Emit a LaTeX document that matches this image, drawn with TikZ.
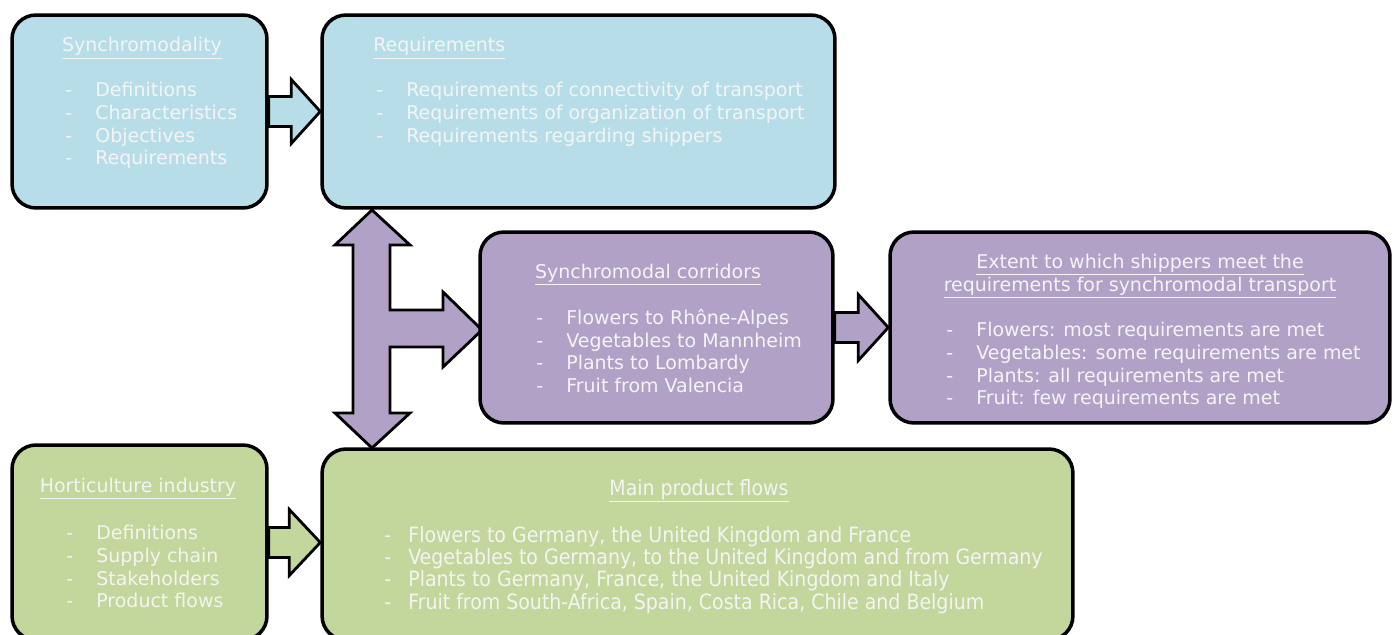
\documentclass[tikz,border=0pt]{standalone}
\usepackage{fontspec}
\setmainfont{DejaVu Sans}
\newfontfamily\condfont{DejaVu Sans Condensed}
\usetikzlibrary{calc}
\definecolor{synblue}{RGB}{183,222,232}
\definecolor{corpurple}{RGB}{178,161,199}
\definecolor{hortgreen}{RGB}{195,214,155}
\definecolor{paletext}{RGB}{244,244,244}

% list entry with a leading dash
\newcommand\itm[1]{\makebox[0.6cm][l]{-}#1}
\newcommand\itmc[1]{\makebox[0.48cm][l]{-}#1}
% horizontal block arrow: from, to, half shaft, half head, head length
\newcommand\blockarrow[6]{%
  \draw[arrowbody, fill=#6] let \p1=(#1), \p2=(#2) in
    (\x1,\y1+#3) -- (\x2-#5,\y1+#3) -- (\x2-#5,\y1+#4) -- (\x2,\y1)
    -- (\x2-#5,\y1-#4) -- (\x2-#5,\y1-#3) -- (\x1,\y1-#3) -- cycle;}

\begin{document}
\begin{tikzpicture}[x=0.02cm, y=-0.02cm]
  \tikzset{box/.style={rectangle, rounded corners=0.48cm, draw=black, line width=2pt, inner sep=0pt},
    arrowbody/.style={draw=black, line width=1.6pt, line join=miter},
    title/.style={inner sep=0pt, text=paletext, font=\fontsize{10.8}{12.9}\selectfont},
    list/.style={inner sep=0pt, align=left, text=paletext, font=\fontsize{10.8}{12.9}\selectfont},
    condtext/.style={font=\condfont\fontsize{12}{12.7}\selectfont}}
  \useasboundingbox (0,0) rectangle (1397,635);

  % triple arrow behind the boxes
  \draw[arrowbody, fill=corpurple] (372,210) -- (410,245) -- (390,245) -- (390,310) -- (443,310) -- (443,292)
    -- (482,330) -- (443,367) -- (443,347) -- (390,347) -- (390,413) -- (410,413) -- (372,448)
    -- (335,413) -- (353,413) -- (353,245) -- (335,245) -- cycle;

  \node[box, fill=synblue, minimum width=5.1cm, minimum height=3.86cm] (syn) at (139.5,111.5) {};
  \node[box, fill=synblue, minimum width=10.26cm, minimum height=3.86cm] (req) at (578.5,111.5) {};
  \node[box, fill=corpurple, minimum width=7.06cm, minimum height=3.82cm] (cor) at (656.5,327.5) {};
  \node[box, fill=corpurple, minimum width=10cm, minimum height=3.82cm] (ext) at (1140,327.5) {};
  \node[box, fill=hortgreen, minimum width=5.1cm, minimum height=3.9cm] (hort) at (139.5,542.5) {};
  \node[box, fill=hortgreen, minimum width=15.02cm, minimum height=3.82cm] (main) at (697.5,544.5) {};

  \blockarrow{syn.east}{req.west}{0.3cm}{0.64cm}{0.58cm}{synblue}
  \blockarrow{cor.east}{ext.west}{0.3cm}{0.66cm}{0.6cm}{corpurple}
  \blockarrow{hort.east}{main.west}{0.3cm}{0.66cm}{0.62cm}{hortgreen}

  % texts
  \node[title, anchor=base] (syntitle) at (142,52) {\underline{Synchromodality}};
  \node[list, anchor=north west] (synlist) at (65,82) {\itm{Definitions}\\ \itm{Characteristics}\\ \itm{Objectives}\\ \itm{Requirements}};

  \node[title, anchor=base west] (reqtitle) at (373,52) {\underline{Requirements}};
  \node[list, anchor=north west] (reqlist) at (376,82) {\itm{Requirements of connectivity of transport}\\
    \itm{Requirements of organization of transport}\\ \itm{Requirements regarding shippers}};

  \node[title, anchor=base] (cortitle) at (648,278) {\underline{Synchromodal corridors}};
  \node[list, anchor=north west] (corlist) at (536,309) {\itm{Flowers to Rhône-Alpes}\\ \itm{Vegetables to Mannheim}\\
    \itm{Plants to Lombardy}\\ \itm{Fruit from Valencia}};

  \node[title, anchor=base, align=center] (exttitle) at (1140,291) {\underline{Extent to which shippers meet the}\\
    \underline{requirements for synchromodal transport}};
  \node[list, anchor=north west] (extlist) at (946,322) {\itm{Flowers: most requirements are met}\\
    \itm{Vegetables: some requirements are met}\\ \itm{Plants: all requirements are met}\\
    \itm{Fruit: few requirements are met}};

  \node[title, anchor=base] (horttitle) at (138,492) {\underline{Horticulture industry}};
  \node[list, anchor=north west] (hortlist) at (66,525) {\itm{Definitions}\\ \itm{Supply chain}\\ \itm{Stakeholders}\\ \itm{Product flows}};

  \node[title, condtext, anchor=base] (maintitle) at (699,495) {\underline{Main product flows}};
  \node[list, condtext, anchor=north west] (mainlist) at (384,526) {\itmc{Flowers to Germany, the United Kingdom and France}\\
    \itmc{Vegetables to Germany, to the United Kingdom and from Germany}\\
    \itmc{Plants to Germany, France, the United Kingdom and Italy}\\
    \itmc{Fruit from South-Africa, Spain, Costa Rica, Chile and Belgium}};
\end{tikzpicture}
\end{document}
